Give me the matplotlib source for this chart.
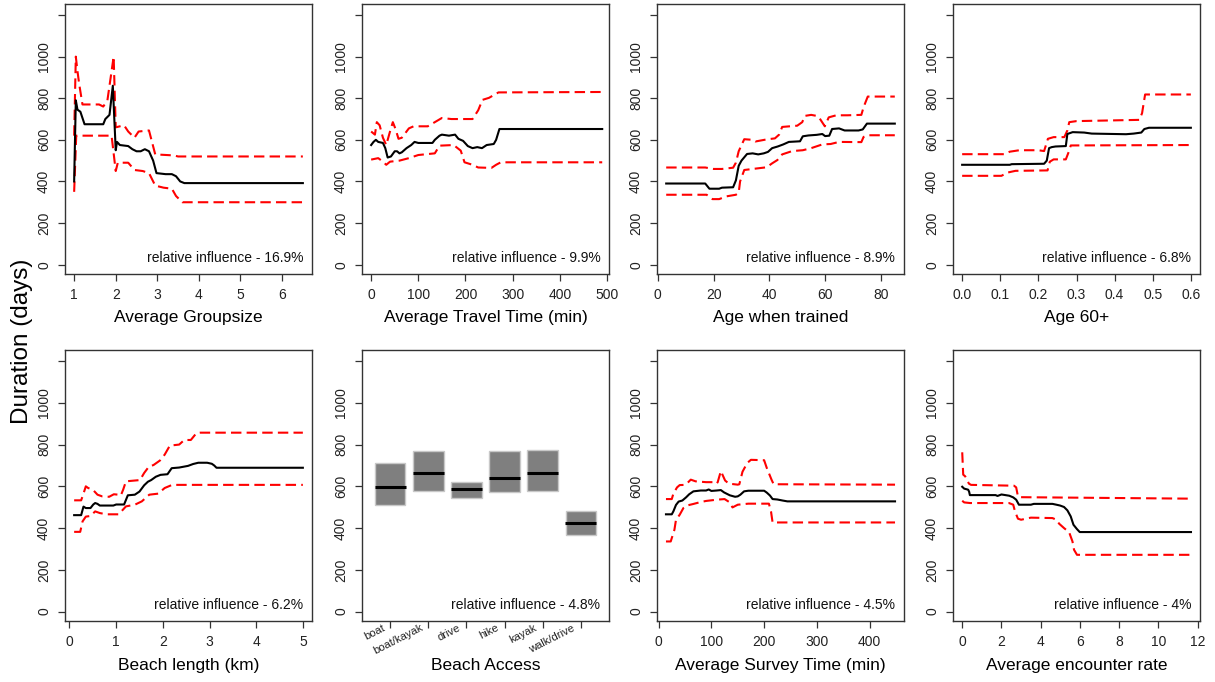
import numpy as np
import matplotlib.pyplot as plt

plt.rcParams['font.family'] = ['Liberation Sans', 'DejaVu Sans']

# partial dependence: fitted mean plus upper / lower bands (days)
group_fit_x = [1.0, 1.04, 1.08, 1.15, 1.25, 1.70, 1.75, 1.85, 1.93, 2.0, 2.03, 2.1, 2.3, 2.4, 2.5, 2.6, 2.7, 2.8, 2.9,
               2.98, 3.2, 3.35, 3.45, 3.55, 3.65, 6.5]
group_fit = [400, 790, 745, 735, 675, 675, 700, 720, 860, 550, 590, 575, 570, 555, 545, 545, 555, 545, 500,
             440, 435, 435, 425, 400, 392, 392]
group_hi_x = [1.0, 1.04, 1.08, 1.12, 1.2, 1.6, 1.7, 1.8, 1.95, 2.0, 2.2, 2.3, 2.45, 2.55, 2.8, 2.95, 3.4, 3.5, 6.5]
group_hi = [620, 1000, 930, 870, 770, 770, 760, 790, 1000, 660, 670, 640, 610, 640, 645, 530, 525, 520, 520]
group_lo_x = [1.0, 1.05, 1.9, 2.0, 2.05, 2.3, 2.45, 2.65, 2.8, 2.95, 3.15, 3.35, 3.45, 3.6, 6.5]
group_lo = [350, 620, 620, 450, 490, 490, 455, 450, 440, 380, 370, 365, 330, 300, 300]

travel_fit_x = [0, 5, 10, 15, 25, 30, 35, 42, 50, 55, 60, 65, 75, 85, 92, 100, 130, 135, 145, 150, 165, 178, 185,
                195, 205, 215, 225, 235, 245, 260, 265, 272, 490]
travel_fit = [575, 590, 600, 590, 585, 560, 515, 520, 545, 545, 535, 540, 560, 575, 590, 585, 585, 600, 620, 625,
              620, 625, 605, 595, 570, 560, 565, 560, 575, 580, 600, 652, 652]
travel_hi_x = [0, 8, 12, 18, 25, 32, 40, 46, 52, 58, 65, 80, 90, 120, 135, 150, 170, 215, 227, 236, 250, 270, 490]
travel_hi = [640, 625, 685, 670, 610, 575, 640, 685, 650, 605, 610, 655, 665, 665, 685, 705, 700, 700, 742, 792,
             802, 828, 830]
travel_lo_x = [0, 15, 25, 32, 40, 60, 80, 100, 135, 145, 175, 190, 198, 215, 227, 255, 265, 275, 490]
travel_lo = [505, 512, 495, 480, 495, 500, 512, 527, 535, 572, 575, 548, 492, 480, 467, 465, 480, 492, 492]

trained_fit_x = [3, 17, 18.5, 22, 23, 27, 28, 29, 30, 32, 34, 36, 38, 39.5, 41, 43, 45, 47, 51, 52, 54, 57, 59, 60,
                 61.5, 62.5, 65, 67, 72, 73.5, 75, 85]
trained_fit = [390, 390, 365, 365, 370, 372, 405, 475, 500, 532, 535, 530, 535, 542, 560, 568, 578, 590, 593, 617,
               621, 624, 628, 618, 620, 652, 655, 645, 645, 650, 678, 678]
trained_hi_x = [3, 17, 20, 23, 27, 28, 29, 31, 34, 35, 39, 42, 43.5, 44.6, 50, 51.8, 52.7, 55, 57, 58, 59.9, 61.3,
                64, 68, 73, 73.8, 75.3, 85]
trained_hi = [467, 467, 460, 460, 466, 490, 545, 603, 600, 592, 602, 607, 625, 662, 668, 685, 715, 720, 715, 704,
              665, 708, 718, 718, 720, 757, 808, 808]
trained_lo_x = [3, 17.5, 19.6, 22, 24.5, 28, 29, 29.5, 31, 34, 39, 41, 42.9, 44.6, 48.2, 52, 55, 59, 62, 65, 73,
                73.8, 75.5, 85]
trained_lo = [336, 336, 315, 315, 328, 336, 345, 400, 455, 460, 468, 487, 503, 530, 546, 550, 560, 578, 580, 590,
              589, 614, 622, 622]

old_fit_x = [0, 0.125, 0.13, 0.215, 0.222, 0.228, 0.235, 0.245, 0.272, 0.276, 0.29, 0.32, 0.34, 0.43, 0.45, 0.47,
             0.478, 0.49, 0.6]
old_fit = [480, 480, 483, 485, 500, 560, 565, 568, 570, 628, 637, 635, 630, 627, 630, 635, 652, 658, 658]
old_hi_x = [0, 0.11, 0.125, 0.15, 0.2, 0.215, 0.225, 0.24, 0.268, 0.276, 0.281, 0.3, 0.465, 0.472, 0.48, 0.6]
old_hi = [531, 531, 543, 550, 550, 546, 605, 613, 613, 645, 685, 690, 696, 728, 818, 818]
old_lo_x = [0, 0.103, 0.12, 0.14, 0.224, 0.23, 0.24, 0.272, 0.28, 0.285, 0.6]
old_lo = [427, 427, 443, 451, 453, 495, 506, 506, 544, 573, 575]

length_fit_x = [0.1, 0.25, 0.3, 0.35, 0.45, 0.51, 0.55, 0.6, 0.65, 0.94, 1.0, 1.17, 1.25, 1.4, 1.5, 1.6, 1.68, 1.75,
                1.85, 1.95, 2.1, 2.19, 2.35, 2.54, 2.65, 2.76, 2.95, 3.05, 3.1, 3.15, 5.0]
length_fit = [462, 462, 503, 496, 496, 513, 520, 516, 508, 508, 513, 513, 557, 560, 575, 605, 622, 630, 646, 655,
              658, 687, 690, 698, 707, 713, 713, 708, 700, 689, 689]
length_hi_x = [0.1, 0.25, 0.3, 0.35, 0.4, 0.5, 0.6, 0.7, 0.85, 0.95, 1.05, 1.1, 1.15, 1.21, 1.51, 1.6, 1.7, 1.8,
               1.94, 2.04, 2.15, 2.35, 2.46, 2.6, 2.72, 2.8, 5.0]
length_hi = [533, 533, 565, 600, 592, 584, 560, 552, 550, 562, 560, 556, 584, 624, 630, 664, 694, 702, 724, 752,
             795, 800, 822, 822, 855, 857, 857]
length_lo_x = [0.1, 0.23, 0.28, 0.35, 0.45, 0.55, 0.65, 0.8, 1.05, 1.12, 1.21, 1.4, 1.55, 1.71, 1.9, 2.04, 2.2, 5.0]
length_lo = [382, 382, 432, 455, 458, 480, 472, 466, 466, 482, 504, 512, 528, 560, 565, 592, 607, 607]

access = ['boat', 'boat/kayak', 'drive', 'hike', 'kayak', 'walk/drive']
access_mid = [595, 662, 587, 642, 662, 424]
access_low = [509, 576, 542, 571, 576, 365]
access_high = [712, 768, 621, 768, 773, 482]

survey_fit_x = [14, 25, 28, 33, 38, 45, 52, 58, 66, 80, 90, 95, 100, 110, 118, 124, 135, 145, 150, 155, 162, 170,
                200, 205, 211, 216, 225, 235, 244, 448]
survey_fit = [466, 466, 480, 511, 527, 532, 547, 562, 576, 580, 580, 585, 578, 580, 582, 571, 557, 550, 552, 560,
              576, 579, 579, 570, 556, 539, 537, 532, 528, 528]
survey_hi_x = [14, 25, 28, 35, 40, 50, 55, 61, 70, 90, 105, 110, 112, 118, 126, 133, 150, 153, 159, 168, 175, 200,
               205, 214, 218, 448]
survey_hi = [539, 539, 565, 595, 606, 607, 617, 632, 624, 620, 620, 613, 620, 673, 628, 613, 608, 610, 670, 712,
             727, 725, 688, 632, 610, 608]
survey_lo_x = [14, 23, 30, 33, 40, 47, 55, 65, 80, 90, 110, 125, 135, 140, 150, 170, 209, 213, 216, 448]
survey_lo = [336, 336, 392, 440, 464, 496, 509, 515, 525, 530, 536, 539, 523, 499, 512, 517, 517, 480, 427, 427]

enc_fit_x = [0, 0.1, 0.3, 0.35, 0.39, 1.7, 1.8, 2.0, 2.2, 2.4, 2.6, 2.75, 2.89, 3.5, 3.65, 4.6, 4.8, 4.99, 5.19,
             5.36, 5.53, 5.67, 5.85, 5.99, 11.66]
enc_fit = [598, 589, 584, 575, 558, 558, 554, 561, 558, 555, 547, 536, 512, 512, 516, 516, 512, 508, 501, 485, 456,
           416, 395, 381, 381]
enc_hi_x = [0, 0.05, 0.15, 0.2, 0.34, 0.45, 2.64, 2.75, 2.84, 3.0, 11.66]
enc_hi = [763, 656, 648, 640, 613, 607, 603, 595, 552, 548, 541]
enc_lo_x = [0, 0.1, 0.4, 2.38, 2.6, 2.69, 2.84, 3.0, 3.5, 4.6, 4.8, 4.94, 5.19, 5.45, 5.62, 5.7, 5.85, 11.66]
enc_lo = [531, 523, 520, 520, 512, 480, 445, 440, 450, 448, 440, 421, 400, 380, 336, 296, 272, 272]

labels = ["Average Groupsize", "Average Travel Time (min)", "Age when trained", "Age 60+",
          "Beach length (km)", "Beach Access", "Average Survey Time (min)", "Average encounter rate"]
influence = ["16.9%", "9.9%", "8.9%", "6.8%", "6.2%", "4.8%", "4.5%", "4%"]

curves = [
    (group_fit_x, group_fit, group_hi_x, group_hi, group_lo_x, group_lo),
    (travel_fit_x, travel_fit, travel_hi_x, travel_hi, travel_lo_x, travel_lo),
    (trained_fit_x, trained_fit, trained_hi_x, trained_hi, trained_lo_x, trained_lo),
    (old_fit_x, old_fit, old_hi_x, old_hi, old_lo_x, old_lo),
    (length_fit_x, length_fit, length_hi_x, length_hi, length_lo_x, length_lo),
    None,
    (survey_fit_x, survey_fit, survey_hi_x, survey_hi, survey_lo_x, survey_lo),
    (enc_fit_x, enc_fit, enc_hi_x, enc_hi, enc_lo_x, enc_lo),
]
xticks = [
    [1, 2, 3, 4, 5, 6],
    [0, 100, 200, 300, 400, 500],
    [0, 20, 40, 60, 80],
    [0.0, 0.1, 0.2, 0.3, 0.4, 0.5, 0.6],
    [0, 1, 2, 3, 4, 5],
    [1, 2, 3, 4, 5, 6],
    [0, 100, 200, 300, 400],
    [0, 2, 4, 6, 8, 10, 12],
]
xlims = [(0.78, 6.72), (-19.4, 504.4), (-0.3, 88.3), (-0.024, 0.624),
         (-0.096, 5.196), (0.26, 6.74), (-3, 465), (-0.47, 12.12)]

W, H = 1215, 682
fig = plt.figure(figsize=(W / 100, H / 100), dpi=100)
lefts = [65, 362, 657, 953]
rows = [(4, 274), (350, 621)]
frame = '#333333'

for i in range(8):
    top, bottom = rows[i // 4]
    ax = fig.add_axes([lefts[i % 4] / W, 1 - bottom / H, 247 / W, (bottom - top) / H])

    if curves[i] is not None:
        fx, fy, hx, hy, lx, ly = curves[i]
        ax.plot(hx, hy, color='red', lw=1.5, dashes=(5, 2.5))
        ax.plot(lx, ly, color='red', lw=1.5, dashes=(5, 2.5))
        ax.plot(fx, fy, color='black', lw=1.5)
    else:
        pos = np.arange(1, len(access) + 1)
        lo = np.array(access_low)
        hi = np.array(access_high)
        ax.bar(pos, hi - lo, bottom=lo, width=0.8, color='#7f7f7f', edgecolor='#c8c8c8', lw=1)
        ax.hlines(access_mid, pos - 0.41, pos + 0.41, color='black', lw=2.2)

    for side in ax.spines:
        ax.spines[side].set_color(frame)
        ax.spines[side].set_linewidth(1)

    ax.set_xlim(*xlims[i])
    ax.set_ylim(-45, 1253)
    ax.set_yticks(range(0, 1201, 200))
    ax.set_yticklabels(['0', '200', '400', '600', '800', '1000', ''])
    ax.set_xticks(xticks[i])
    if i == 3:
        ax.set_xticklabels(['%.1f' % t for t in xticks[i]])
    elif i == 5:
        ax.set_xticklabels([])
        # slanted category names, right end just left of each tick
        for p, name in zip(pos, access):
            ax.annotate(name, xy=(p, 0), xycoords=('data', 'axes fraction'),
                        xytext=(-4.5, -4.5), textcoords='offset points',
                        ha='right', va='center', rotation=27, rotation_mode='anchor',
                        fontsize=8, color='#222222')
    else:
        ax.set_xticklabels([str(t) for t in xticks[i]])

    ax.tick_params(length=5, width=0.9, color=frame, labelsize=10, labelcolor='#222222', pad=5)
    ax.tick_params(axis='y', labelrotation=90)
    for lab in ax.get_yticklabels():
        lab.set_va('center')

    ax.set_xlabel(labels[i], fontsize=12.5)
    ax.xaxis.set_label_coords(0.5, -0.135)
    ax.text(0.965, 0.06, "relative influence - " + influence[i], transform=ax.transAxes,
            ha='right', va='center', fontsize=10, color='#111111')

fig.text(22 / W, 1 - 341 / H, "Duration (days)", rotation=90, ha='center', va='center', fontsize=17.5)

plt.savefig("out.png", dpi=100)
